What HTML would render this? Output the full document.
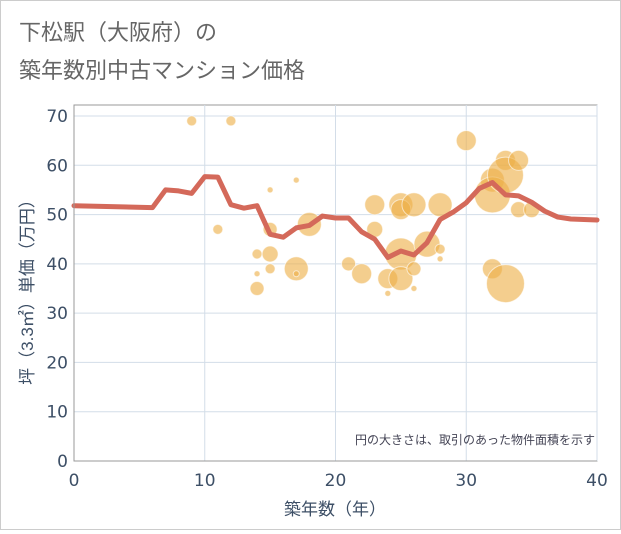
<!DOCTYPE html>
<html><head><meta charset="utf-8"><style>
body{margin:0;background:#fff;font-family:"Liberation Sans","Noto Sans CJK JP",sans-serif;}
#wrap{position:relative;width:619px;height:528px;border:1px solid #ccc;background:#fff;}
</style></head><body>
<div id="wrap">
<svg id="chart" width="619" height="528" xmlns="http://www.w3.org/2000/svg">
<text x="18" y="39" font-size="22" fill="#666" font-family="Liberation Sans,Noto Sans CJK JP,sans-serif">下松駅（大阪府）の</text>
<text x="18" y="77" font-size="22" fill="#666" font-family="Liberation Sans,Noto Sans CJK JP,sans-serif">築年数別中古マンション価格</text>
<g id="grid"></g><g id="bubbles"></g><g id="line"></g><g id="axes"></g>
<text x="594" y="443" font-size="12" fill="#445" text-anchor="end" font-family="Liberation Sans,Noto Sans CJK JP,sans-serif">円の大きさは、取引のあった物件面積を示す</text>
<text x="334" y="514" font-size="17" fill="#3d4f66" text-anchor="middle" font-family="Liberation Sans,Noto Sans CJK JP,sans-serif">築年数（年）</text>
<text transform="translate(32,287) rotate(-90)" font-size="17" fill="#3d4f66" text-anchor="middle" font-family="Liberation Sans,Noto Sans CJK JP,sans-serif">坪（3.3㎡）単価（万円）</text>
</svg></div>
<script>
const xTicks=[0,10,20,30,40];
const yTicks=[0,10,20,30,40,50,60,70];
const lineX=[0,6,7,8,9,10,11,12,13,14,15,16,17,18,19,20,21,22,23,24,25,26,27,28,29,30,31,32,33,34,35,36,37,38,40];
const lineY=[51.8,51.4,55,54.8,54.3,57.7,57.6,52,51.3,51.8,46,45.4,47.3,47.8,49.7,49.3,49.3,46.5,45,41.3,42.6,41.8,44.3,49,50.5,52.4,55.3,56.5,54,53.8,52.5,50.7,49.5,49.1,48.9];
const bubX=[9,12,11,14,14,14,15,15,15,15,17,17,17,18,21,22,23,23,24,24,25,25,25,25,26,26,26,27,28,28,28,30,32,32,32,33,33,33,34,34,35];
const bubY=[69,69,47,42,38,35,55,47,42,39,57,39,38,48,40,38,52,47,37,34,52,51,42,37,52,39,35,44,43,41,52,65,57,54,39,61,58,36,61,51,51];
const bubR=[5,5,5,5,3,7,3,7,8,5,3,12,3,12,7,10,10,8,10,3,12,10,16,12,12,7,3,13,5,3,12,10,12,18,10,10,18,19,10,8,8];
const X0=73,X1=596,Y0=460,Y1=115;
const xs=v=>X0+(v-0)/(40-0)*(X1-X0);
const ys=v=>Y0-(v-0)/(70-0)*(Y0-Y1);
const NS="http://www.w3.org/2000/svg";
function mk(t,a,p){const e=document.createElementNS(NS,t);for(const k in a)e.setAttribute(k,a[k]);p.appendChild(e);return e;}
const grid=document.getElementById('grid'),axes=document.getElementById('axes');
mk('rect',{x:X0,y:104,width:X1-X0,height:Y0-104,fill:'#fff',stroke:'#999'},grid);
xTicks.forEach(t=>{
 const l=mk('line',{x1:xs(t),x2:xs(t),y1:104,y2:Y0,stroke:'#d3dde8'},grid);
 
 
 const tx=mk('text',{x:xs(t),y:485,'font-size':17,fill:'#3d4f66','text-anchor':'middle','font-family':'DejaVu Sans,sans-serif'},axes);
 tx.textContent=t;
 
 
});
yTicks.forEach(t=>{
 const l=mk('line',{x1:X0,x2:X1,y1:ys(t),y2:ys(t),stroke:'#d3dde8'},grid);
 
 
 const tx=mk('text',{x:67,y:ys(t)+6,'font-size':17,fill:'#3d4f66','text-anchor':'end','font-family':'DejaVu Sans,sans-serif'},axes);
 tx.textContent=t;
 
 
});
mk('line',{x1:X0,x2:X0,y1:104,y2:Y0,stroke:'#999'},axes);
mk('line',{x1:X0,x2:X1,y1:Y0,y2:Y0,stroke:'#999'},axes);
const bg=document.getElementById('bubbles');
bubX.forEach((x,i)=>{
 const c=mk('circle',{cx:xs(x),cy:ys(bubY[i]),r:bubR[i],fill:'rgba(238,176,72,0.62)',stroke:'rgba(255,255,255,0.6)','stroke-width':1},bg);
 
 
});
const pts=lineX.map((x,i)=>xs(x)+','+ys(lineY[i])).join(' ');
const pl=mk('polyline',{points:pts,fill:'none',stroke:'#d4695a','stroke-width':5,'stroke-linejoin':'round','stroke-linecap':'round'},document.getElementById('line'));


</script>
</body></html>
